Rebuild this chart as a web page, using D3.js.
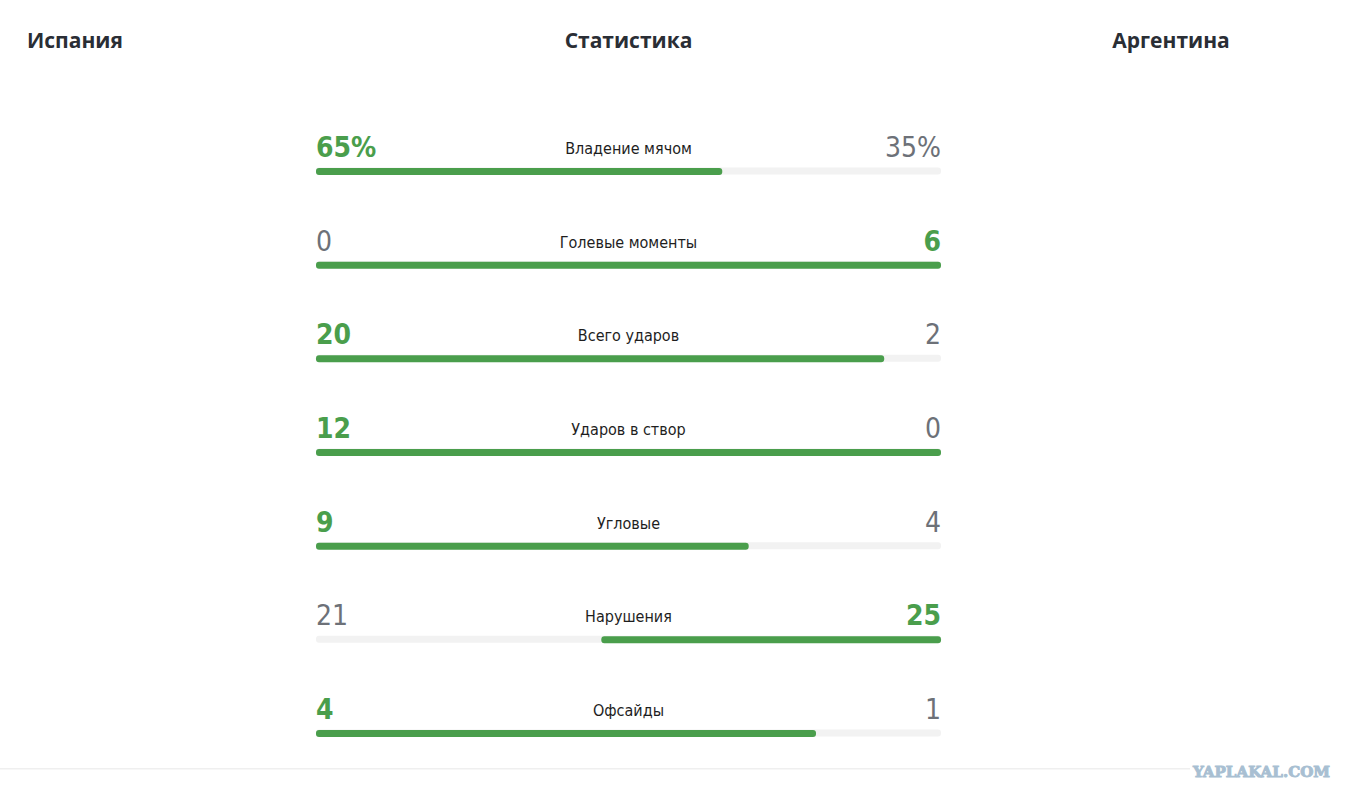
<!DOCTYPE html>
<html>
<head>
<meta charset="utf-8">
<script src="https://cdn.jsdelivr.net/npm/d3@7"></script>
<style>
  body { margin:0; background:#fff; }
  svg { display:block; }
</style>
</head>
<body>
<svg id="chart" width="1356" height="801"></svg>
<script>
// match stats, Испания vs Аргентина
let teamLeft = "Испания"
let teamRight = "Аргентина"
let title = "Статистика"
let categories = ["Владение мячом","Голевые моменты","Всего ударов","Ударов в створ","Угловые","Нарушения","Офсайды"]
let leftValues = [65,0,20,12,9,21,4]
let rightValues = [35,6,2,0,4,25,1]
let suffix = ["%","","","","","",""]

const green = "#4a9e4c", grey = "#6d7178", track = "#f2f2f2"
const numFont = "'DejaVu Sans Condensed','Liberation Sans Narrow',sans-serif"

var svg = d3.select("#chart")

// headers
function header(txt,xpos,anchor){
  svg.append("text").text(txt).attr("x",xpos).attr("y",48).attr("text-anchor",anchor)
    .style("font-family","'Open Sans',sans-serif").style("font-weight","700").style("font-size","21px").style("fill","#2a2e35")
}
header(teamLeft,27,"start")
header(title,628.5,"middle")
header(teamRight,1171,"middle")

var x = d3.scaleLinear().domain([0,1]).range([316,941])
var y = d3.scalePoint().domain(categories).range([171,733])

var rows = categories.map(function(c,i){
  var total = leftValues[i]+rightValues[i]
  return {name:c, l:leftValues[i], r:rightValues[i], s:suffix[i], share: total ? leftValues[i]/total : 0.5}
})

var g = svg.selectAll(".row").data(rows).enter().append("g").attr("class","row")

// grey track
g.append("rect").attr("x",x(0)).attr("y",d=>y(d.name)-3.5)
  .attr("width",x(1)-x(0)).attr("height",7).attr("rx",3).attr("fill",track)

// green part on the side of the bigger value
g.append("rect")
  .attr("x",function(d){ return d.l>=d.r ? x(0) : x(d.share) })
  .attr("y",d=>y(d.name)-3)
  .attr("width",function(d){ return d.l>=d.r ? x(d.share)-x(0) : x(1)-x(d.share) })
  .attr("height",7).attr("rx",3).attr("fill",green)

g.append("text").text(d=>d.l+d.s).attr("x",x(0)).attr("y",d=>y(d.name)-14)
  .style("font-family",numFont).style("font-size","28px")
  .style("font-weight",d=>d.l>=d.r?"600":"400")
  .style("fill",d=>d.l>=d.r?green:grey)

g.append("text").text(d=>d.r+d.s).attr("x",x(1)).attr("y",d=>y(d.name)-14).attr("text-anchor","end")
  .style("font-family",numFont).style("font-size","28px")
  .style("font-weight",d=>d.r>d.l?"600":"400")
  .style("fill",d=>d.r>d.l?green:grey)

g.append("text").text(d=>d.name).attr("x",628.5).attr("y",d=>y(d.name)-17).attr("text-anchor","middle")
  .style("font-family",numFont).style("font-size","16px").style("fill","#1e1e1e")

// bottom rule and watermark
svg.append("rect").attr("x",0).attr("y",768).attr("width",1190).attr("height",1.5).attr("fill","#efefef")
svg.append("text").text("YAPLAKAL.COM").attr("x",1193).attr("y",777)
  .style("font-family","'DejaVu Serif',serif").style("font-weight","900").style("font-size","14px")
  .style("fill","#a8bfd2").style("stroke","#a8bfd2").style("stroke-width","0.9")
  .attr("textLength",137).attr("lengthAdjust","spacingAndGlyphs")
</script>
</body>
</html>
